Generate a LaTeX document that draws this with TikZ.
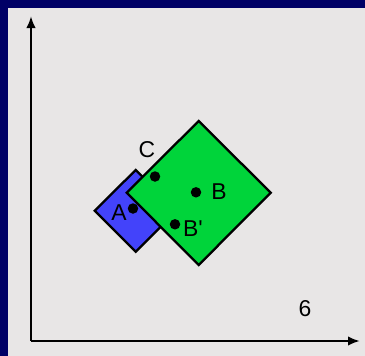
\documentclass[tikz,border=0pt]{standalone}
\usepackage{fontspec}
\newfontfamily\lblfont{Liberation Sans}
\usetikzlibrary{arrows.meta}
\definecolor{rotnavy}{HTML}{000066}
\definecolor{rotgray}{HTML}{E8E6E6}
\definecolor{rotgreen}{HTML}{00D43A}
\definecolor{rotblue}{HTML}{4343FA}

\begin{document}
\begin{tikzpicture}[x=1bp, y=-1bp,
        lbl/.style={font=\lblfont\fontsize{23}{26}\selectfont, text=black, inner sep=0pt},
        pt/.style={circle, fill=black, inner sep=0pt, minimum size=10.5bp},
      ]
      % Frame and panel
      \fill[rotnavy] (0,0) rectangle (365,356);
      \fill[rotgray] (8,8) rectangle (365,356);
      \useasboundingbox (0,0) rectangle (365,356);

      % Axes
      \coordinate (O) at (31,341);
      \draw[line width=2.3bp, -{Latex[length=12bp,width=9.5bp]}] (O) -- (31,16);
      \draw[line width=2.3bp, -{Latex[length=12bp,width=9.5bp]}] (O) -- (360,341);

      % Small square A (behind) and large square B
      \filldraw[fill=rotblue, draw=black, line width=2.3bp]
        (135.7,170) -- (176.7,210.7) -- (135.7,251.7) -- (94.7,210.7) -- cycle;
      \filldraw[fill=rotgreen, draw=black, line width=2.3bp]
        (198.7,121) -- (270.7,192.7) -- (198.7,265) -- (126.7,192.7) -- cycle;

      % Points
      \node[pt] (C) at (155,176.5) {};
      \node[pt] (A) at (133,208.5) {};
      \node[pt] (B) at (196,192.3) {};
      \node[pt] (Bp) at (175,224.3) {};

      % Labels
      \node[lbl] (Clbl) at (147,150) {C};
      \node[lbl] (Albl) at (119,213) {A};
      \node[lbl] (Blbl) at (219,192) {B};
      \node[lbl] (Bplbl) at (193,228.5) {B'};
      \node[lbl] (six) at (305,309) {6};
    \end{tikzpicture}
\end{document}
